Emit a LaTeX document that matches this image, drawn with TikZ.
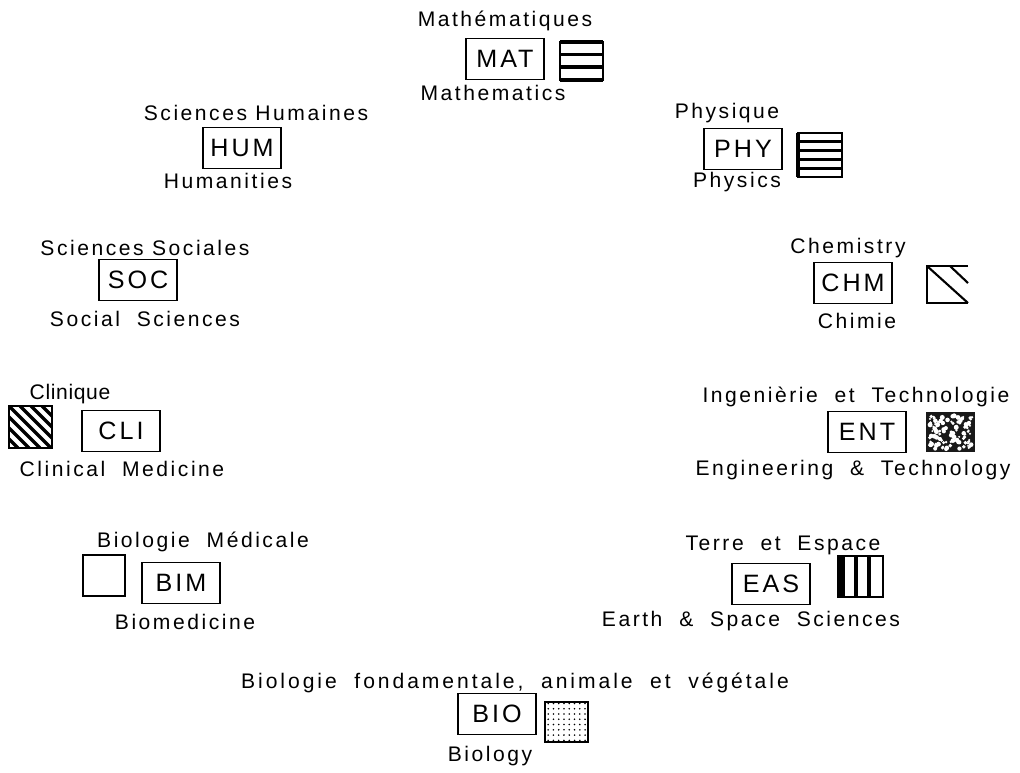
\documentclass[tikz,border=0pt]{standalone}
\usepackage{fontspec}
\setmainfont{Liberation Sans}[LetterSpace=12, WordSpace=2]
\newfontfamily\codefont{Liberation Sans}[LetterSpace=12]
\newfontfamily\narrowfont{Liberation Sans}[LetterSpace=12]
\newfontfamily\tightfont{Liberation Sans}[LetterSpace=3]
\newfontfamily\widefont{Liberation Sans}[LetterSpace=14, WordSpace=2]
\usetikzlibrary{patterns}

\begin{document}
\begin{tikzpicture}[
    x=0.02cm, y=-0.02cm,
    code/.style={rectangle, draw=black, line width=1pt, minimum width=1.56cm,
                 minimum height=0.82cm, inner sep=0pt,
                 font=\codefont\fontsize{14.3}{16}\selectfont},
    lbl/.style={inner sep=0pt, font=\fontsize{12}{14}\selectfont},
    swatch/.style={draw=black, line width=1pt},
    bar/.style={line width=2.2pt}
]
\useasboundingbox (0,0) rectangle (1020,772);

% Mathematiques
\node[code] (mat) at (505,59) {MAT};
\node[lbl] (mat-fr) at (505,21) {Mathématiques};
\node[lbl] (mat-en) at (493,93) {Mathematics};
\draw[swatch] (560,42) rectangle (603,80);
\foreach \y in {42,54.5,67,80}
    \draw[bar] (560,\y) -- (603,\y);

% Sciences humaines
\node[code] (hum) at (242,148) {HUM};
\node[lbl] (hum-fr) at (256,113) {\narrowfont Sciences Humaines};
\node[lbl] (hum-en) at (228,181) {Humanities};

% Physique
\node[code] (phy) at (743,149) {PHY};
\node[lbl] (phy-fr) at (727,113) {Physique};
\node[lbl] (phy-en) at (737,182) {Physics};
\draw[swatch] (798,133) rectangle (842,177);
\draw[bar] (798,133) -- (798,177);
\foreach \y in {133,141.8,150.6,159.4,168.2,177}
    \draw[line width=1.6pt] (798,\y) -- (842,\y);

% Sciences sociales
\node[code] (soc) at (138,280) {SOC};
\node[lbl] (soc-fr) at (145,248) {\narrowfont Sciences Sociales};
\node[lbl] (soc-en) at (145,319) {Social Sciences};

% Chimie
\node[code] (chm) at (853,283) {CHM};
\node[lbl] (chm-en) at (848,248) {Chemistry};
\node[lbl] (chm-fr) at (857,321) {Chimie};
\draw[swatch] (968,266) -- (927,266) -- (927,303) -- (968,303);
\draw[line width=1.2pt] (927,266) -- (968,303);
\draw[line width=1.2pt] (950,266) -- (968,283);

% Clinique
\node[code] (cli) at (121,431) {CLI};
\node[lbl] (cli-fr) at (70,394) {\tightfont Clinique};
\node[lbl] (cli-en) at (122,469) {Clinical Medicine};
\begin{scope}
    \clip (9,406) rectangle (52,448);
    \foreach \d in {-44,-33,...,44}
        \draw[line width=1.9pt] (9+\d,406) -- (51+\d,448);
\end{scope}
\draw[swatch] (9,406) rectangle (52,448);

% Ingenierie et technologie
\node[code] (ent) at (867,432) {ENT};
\node[lbl] (ent-fr) at (856,397) {Ingenièrie et Technologie};
\node[lbl] (ent-en) at (853,470) {Engineering \& Technology};
\fill[black!90] (926,412) rectangle (975,452);
\pgfmathsetseed{17}
\foreach \i in {1,...,110} {
    \pgfmathsetmacro{\px}{929+rnd*43}
    \pgfmathsetmacro{\py}{415+rnd*34}
    \pgfmathsetmacro{\pr}{0.02+rnd*0.03}
    \fill[white] (\px,\py) circle[radius=\pr cm];
}

% Biologie medicale
\node[code] (bim) at (181,583) {BIM};
\node[lbl] (bim-fr) at (203,542) {Biologie Médicale};
\node[lbl] (bim-en) at (185,622) {Biomedicine};
\draw[swatch] (83,555) rectangle (125,596);

% Terre et espace
\node[code] (eas) at (771,584) {EAS};
\node[lbl] (eas-fr) at (783,545) {Terre et Espace};
\node[lbl] (eas-en) at (751,621) {Earth \& Space Sciences};
\draw[swatch] (838,556) rectangle (883,597);
\draw[line width=4pt] (841,556) -- (841,597);
\foreach \x in {856,869}
    \draw[line width=1.8pt] (\x,556) -- (\x,597);

% Biologie fondamentale
\node[code] (bio) at (497,714) {BIO};
\node[lbl] (bio-fr) at (515,683) {\widefont Biologie fondamentale, animale et végétale};
\node[lbl] (bio-en) at (490,756) {Biology};
\draw[swatch, pattern=dots] (545,702) rectangle (588,742);

\end{tikzpicture}
\end{document}
